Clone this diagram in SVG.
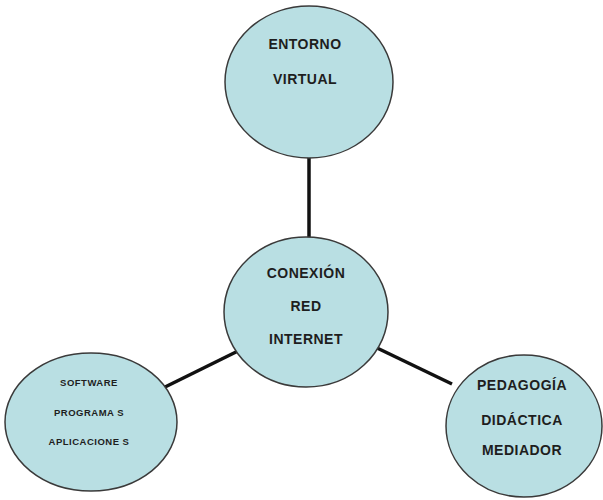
<svg xmlns="http://www.w3.org/2000/svg" width="603" height="500" viewBox="0 0 603 500">
<style>
.node{fill:#b9dfe3;stroke:#3a3a3a;stroke-width:1.5}
.conn{stroke:#111;stroke-width:3.5;fill:none}
.t{font-family:"Liberation Sans",Arial,sans-serif;font-weight:bold;font-size:14px;fill:#1e1e1e;text-anchor:middle;letter-spacing:0.5px}
.s{font-size:9.5px;letter-spacing:0.5px}
</style>
<rect width="603" height="500" fill="#fff"/>
<g id="connectors">
<line class="conn" x1="309" y1="155" x2="309" y2="240"/>
<line class="conn" x1="238" y1="351" x2="161" y2="389"/>
<line class="conn" x1="375" y1="347" x2="452" y2="384"/>
</g>
<g id="entorno">
<ellipse class="node" cx="309" cy="82" rx="84" ry="76"/>
<text class="t" x="305" y="49">ENTORNO</text>
<text class="t" x="305" y="84">VIRTUAL</text>
</g>
<g id="conexion">
<ellipse class="node" cx="306" cy="312" rx="82" ry="75"/>
<text class="t" x="306" y="278">CONEXIÓN</text>
<text class="t" x="306" y="311">RED</text>
<text class="t" x="306" y="344">INTERNET</text>
</g>
<g id="software">
<ellipse class="node" cx="91" cy="422" rx="86" ry="69"/>
<text class="t s" x="89" y="386">SOFTWARE</text>
<text class="t s" x="89" y="416">PROGRAMA S</text>
<text class="t s" x="89" y="445">APLICACIONE S</text>
</g>
<g id="pedagogia">
<ellipse class="node" cx="524" cy="426" rx="78" ry="71"/>
<text class="t" x="522" y="390">PEDAGOGÍA</text>
<text class="t" x="522" y="425">DIDÁCTICA</text>
<text class="t" x="522" y="455">MEDIADOR</text>
</g>
</svg>
